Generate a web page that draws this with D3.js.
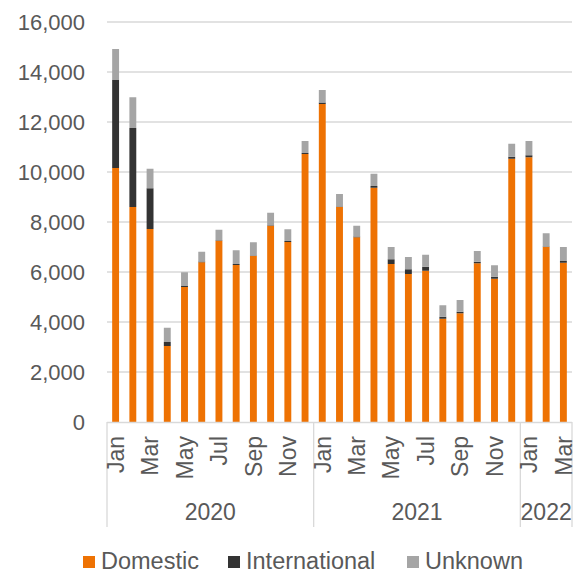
<!DOCTYPE html>
<html>
<head>
<meta charset="utf-8">
<script src="https://cdn.jsdelivr.net/npm/d3@7"></script>
<style>
  body { margin: 0; background: #fff; }
  text { font-family: "Liberation Sans", Arial, sans-serif; fill: #595959; }
</style>
</head>
<body>
<svg id="chart" width="578" height="575"></svg>
<script>
// months Jan 2020 .. Mar 2022
var months = ["Jan","Feb","Mar","Apr","May","Jun","Jul","Aug","Sep","Oct","Nov","Dec",
              "Jan","Feb","Mar","Apr","May","Jun","Jul","Aug","Sep","Oct","Nov","Dec",
              "Jan","Feb","Mar"];
var years = [{label: "2020", start: 0, end: 12}, {label: "2021", start: 12, end: 24}, {label: "2022", start: 24, end: 27}];

var domestic = [10160, 8600, 7720, 3040, 5400, 6390, 7250, 6280, 6640, 7850, 7200, 10720,
                12720, 8600, 7390, 9370, 6320, 5920, 6050, 4130, 4350, 6350, 5730, 10530,
                10590, 7000, 6370];
var international = [3520, 3160, 1630, 160, 40, 30, 20, 40, 20, 20, 40, 40,
                     60, 20, 30, 70, 190, 190, 160, 80, 60, 60, 80, 80,
                     80, 20, 70];
var unknown = [1240, 1230, 780, 570, 550, 390, 420, 550, 530, 500, 470, 480,
               500, 500, 430, 490, 490, 490, 480, 460, 470, 430, 460, 520,
               570, 530, 560];

var seriesNames = ["Domestic", "International", "Unknown"];
var colors = {Domestic: "#ee7203", International: "#333333", Unknown: "#a5a5a5"};
var yTicks = d3.range(0, 16001, 2000);

var svg = d3.select("#chart");

var rows = months.map(function(m, i) {
  return {i: i, Domestic: domestic[i], International: international[i], Unknown: unknown[i]};
});

var x = d3.scaleBand()
    .domain(d3.range(months.length))
    .range([107, 572])
    .paddingInner(0.6)
    .paddingOuter(0.3);

var y = d3.scaleLinear().domain([0, 16000]).range([422, 22]);

// gridlines
svg.append("g").selectAll("line")
  .data(yTicks.slice(1))
  .enter().append("line")
  .attr("x1", 107).attr("x2", 572)
  .attr("y1", function(d) { return y(d); })
  .attr("y2", function(d) { return y(d); })
  .attr("stroke", "#d9d9d9").attr("stroke-width", 1.3);

// y labels
svg.append("g").selectAll("text")
  .data(yTicks)
  .enter().append("text")
  .attr("x", 85)
  .attr("y", function(d) { return y(d); })
  .attr("dy", "0.36em")
  .attr("text-anchor", "end")
  .style("font-size", "22px")
  .text(function(d) { return d3.format(",")(d); });

// bars
var stacked = d3.stack().keys(seriesNames)(rows);

svg.append("g").selectAll("g")
  .data(stacked)
  .enter().append("g")
  .attr("fill", function(d) { return colors[d.key]; })
  .selectAll("rect")
  .data(function(d) { return d; })
  .enter().append("rect")
  .attr("x", function(d) { return x(d.data.i); })
  .attr("width", x.bandwidth())
  .attr("y", function(d) { return y(d[1]); })
  .attr("height", function(d) { return y(d[0]) - y(d[1]); });

// x axis line + group separators
svg.append("line")
  .attr("x1", 107).attr("x2", 572)
  .attr("y1", 422.5).attr("y2", 422.5)
  .attr("stroke", "#d9d9d9").attr("stroke-width", 1.3);

var bounds = years.map(function(d) { return d.start; }).concat([months.length]);
svg.append("g").selectAll("line")
  .data(bounds)
  .enter().append("line")
  .attr("x1", function(d) { return 107 + x.step() * d; })
  .attr("x2", function(d) { return 107 + x.step() * d; })
  .attr("y1", 422).attr("y2", 527)
  .attr("stroke", "#d9d9d9").attr("stroke-width", 1.3);

// month labels (every other)
svg.append("g").selectAll("text")
  .data(months.map(function(m, i) { return {m: m, i: i}; }).filter(function(d) { return d.i % 2 === 0; }))
  .enter().append("text")
  .attr("transform", function(d) {
    return "translate(" + (x(d.i) + x.bandwidth() / 2) + ",436) rotate(-90)";
  })
  .attr("dy", "0.36em")
  .attr("text-anchor", "end")
  .style("font-size", "23px")
  .text(function(d) { return d.m; });

// year labels
svg.append("g").selectAll("text")
  .data(years)
  .enter().append("text")
  .attr("x", function(d) { return 107 + x.step() * (d.start + d.end) / 2; })
  .attr("y", 520)
  .attr("text-anchor", "middle")
  .style("font-size", "23px")
  .text(function(d) { return d.label; });

// legend
var legendX = [83, 228, 407];
var legend = svg.append("g").selectAll("g")
  .data(seriesNames)
  .enter().append("g")
  .attr("transform", function(d, i) { return "translate(" + legendX[i] + ",556)"; });

legend.append("rect")
  .attr("width", 12).attr("height", 12)
  .attr("fill", function(d) { return colors[d]; });

legend.append("text")
  .attr("x", 18).attr("y", 12.5)
  .style("font-size", "23.5px")
  .text(function(d) { return d; });
</script>
</body>
</html>
